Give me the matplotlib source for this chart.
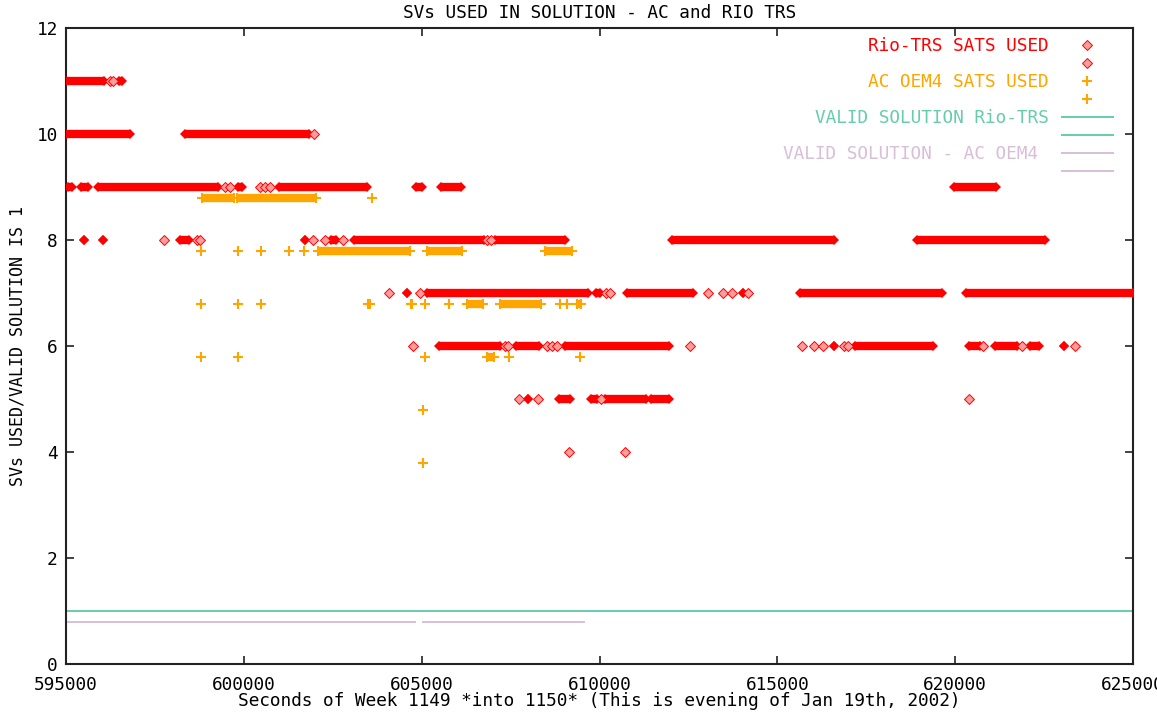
import matplotlib
matplotlib.use("Agg")
import matplotlib.pyplot as plt
from matplotlib.lines import Line2D

# ---------------- data ----------------
# Rio-TRS satellites used: continuous runs (level, start s, end s)
rio_run_level = [11, 11,
                 10, 10,
                 9, 9, 9, 9, 9, 9, 9, 9,
                 8, 8, 8, 8, 8, 8, 8, 8, 8,
                 7, 7, 7, 7, 7, 7, 7,
                 6, 6, 6, 6, 6, 6, 6, 6, 6,
                 5, 5, 5, 5, 5]
rio_run_start = [595000, 596490,
                 595000, 598350,
                 595050, 595420, 595900, 599840, 601000, 604840, 605545, 619960,
                 595506, 596040, 598200, 601720, 602450, 603100, 607050, 612040, 618930,
                 604600, 605150, 609900, 610775, 614040, 615640, 620310,
                 605500, 607650, 609020, 616600, 617170, 620390, 621120, 622100, 623060,
                 607980, 608860, 609760, 610150, 611460]
rio_run_end = [596080, 596575,
               596800, 601830,
               595170, 595620, 599260, 599950, 603460, 605010, 606110, 621150,
               595506, 596040, 598460, 601720, 602590, 606760, 609030, 616600, 622520,
               604600, 609680, 610020, 612620, 614040, 619630, 625000,
               607200, 608300, 611960, 616600, 619380, 620700, 621740, 622360, 623060,
               607980, 609170, 609930, 611320, 611960]
# Rio-TRS isolated epochs
rio_pt_x = [596240, 596320,
            601980,
            599470, 599610, 600455, 600600, 600736,
            597756, 598680, 598770, 601945, 602280, 602790, 606850, 606950,
            604080, 604955, 610190, 610300, 613050, 613475, 613730, 614180,
            604770, 607340, 607430, 608520, 608670, 608810, 612550, 615700, 616035,
            616290, 616880, 616990, 620770, 621880, 623370,
            607750, 608275, 610050, 620390,
            609140, 610720]
rio_pt_y = [11, 11,
            10,
            9, 9, 9, 9, 9,
            8, 8, 8, 8, 8, 8, 8, 8,
            7, 7, 7, 7, 7, 7, 7, 7,
            6, 6, 6, 6, 6, 6, 6, 6, 6,
            6, 6, 6, 6, 6, 6,
            5, 5, 5, 5,
            4, 4]

# AC OEM4 satellites used (plotted 0.2 below)
ac_run_level = [8.8, 8.8, 7.8, 7.8, 7.8, 6.8, 6.8, 6.8, 6.8, 6.8, 5.8]
ac_run_start = [598820, 599800, 602090, 605140, 608470, 603500, 604700, 606280, 607200, 609370, 606840]
ac_run_end = [599730, 602040, 604670, 606140, 609230, 603560, 604740, 606730, 608360, 609480, 607040]
ac_pt_x = [603600,
           598790, 599840, 600490, 601280, 601700,
           598790, 599840, 600490, 605100, 605770, 608900, 609100,
           598790, 599840, 605100, 607460, 609450,
           605040, 605040]
ac_pt_y = [8.8,
           7.8, 7.8, 7.8, 7.8, 7.8,
           6.8, 6.8, 6.8, 6.8, 6.8, 6.8, 6.8,
           5.8, 5.8, 5.8, 5.8, 5.8,
           4.8, 3.8]

# valid-solution flags
rio_valid_start = [595000]
rio_valid_end = [625000]
rio_valid_level = [1.0]
ac_valid_start = [595000, 605040]
ac_valid_end = [604820, 609560]
ac_valid_level = [0.8, 0.8]

x_ticks = [595000, 600000, 605000, 610000, 615000, 620000, 625000]
y_ticks = [0, 2, 4, 6, 8, 10, 12]

labels = ["Rio-TRS SATS USED", "AC OEM4 SATS USED",
          "VALID SOLUTION Rio-TRS", "VALID SOLUTION - AC OEM4 "]

# ---------------- style ----------------
RED = "#ff0000"
RED_LIGHT = "#ff9d9d"
ORANGE = "#ffa500"
GREEN = "#66cdaa"
PURPLE = "#d8bfd8"
FS = 12.8

plt.rcParams["font.family"] = ["DejaVu Sans Mono", "DejaVu Sans"]
plt.rcParams["font.size"] = FS

W, H = 1157, 717
fig = plt.figure(figsize=(W / 100, H / 100), dpi=100)
ax = fig.add_axes([66 / W, 1 - 664 / H, (1133 - 66) / W, (664 - 28) / H])

# valid lines
for s, e, v in zip(rio_valid_start, rio_valid_end, rio_valid_level):
    ax.plot([s, e], [v, v], color=GREEN, lw=1.4, zorder=2)
for s, e, v in zip(ac_valid_start, ac_valid_end, ac_valid_level):
    ax.plot([s, e], [v, v], color=PURPLE, lw=1.4, zorder=2)

# Rio runs
for s, e, v in zip(rio_run_start, rio_run_end, rio_run_level):
    ax.plot([s, e], [v, v], color=RED, lw=6, solid_capstyle="butt",
            marker="D", ms=5.3, mew=0, zorder=3)
ax.plot(rio_pt_x, rio_pt_y, ls="none", marker="D", ms=5, mfc=RED_LIGHT,
        mec=RED, mew=0.7, zorder=3)

# AC runs
for s, e, v in zip(ac_run_start, ac_run_end, ac_run_level):
    ax.plot([s, e], [v, v], color=ORANGE, lw=6, solid_capstyle="butt",
            marker="+", ms=7.5, mew=1.5, zorder=3)
ax.plot(ac_pt_x, ac_pt_y, ls="none", marker="+", ms=7.5, mew=1.5,
        color=ORANGE, zorder=3)

ax.set_xlim(x_ticks[0], x_ticks[-1])
ax.set_ylim(y_ticks[0], y_ticks[-1])
ax.set_xticks(x_ticks)
ax.set_xticklabels([str(t) for t in x_ticks])
ax.set_yticks(y_ticks)
ax.tick_params(direction="in", length=6, width=1.2, top=True, right=True,
               colors="#222222", labelcolor="black")
ax.tick_params(axis="x", pad=8.5)
ax.tick_params(axis="y", pad=6)
for sp in ax.spines.values():
    sp.set_linewidth(1.5)
    sp.set_color("#222222")

ax.set_title("SVs USED IN SOLUTION - AC and RIO TRS", fontsize=FS, pad=7)
ax.set_xlabel("Seconds of Week 1149 *into 1150* (This is evening of Jan 19th, 2002)",
              labelpad=-1)
ax.set_ylabel("SVs USED/VALID SOLUTION IS 1", fontsize=12, labelpad=7)

# legend (gnuplot-style: text then sample, each sample shown twice)
h_rio = Line2D([], [], ls="none", marker="D", ms=5, mfc=RED_LIGHT, mec=RED, mew=0.7)
h_ac = Line2D([], [], ls="none", marker="+", ms=7, mew=1.5, color=ORANGE)
h_gr = Line2D([], [], color=GREEN, lw=1.4)
h_pu = Line2D([], [], color=PURPLE, lw=1.4)
handles = [h_rio, h_rio, h_ac, h_ac, h_gr, h_gr, h_pu, h_pu]
leg_labels = [labels[0], " ", labels[1], " ", labels[2], " ", labels[3], " "]
leg = ax.legend(handles, leg_labels, loc="upper right",
                bbox_to_anchor=(0.9895, 1.0), markerfirst=False,
                frameon=False, handlelength=2.87, handletextpad=0.72,
                labelspacing=0.0, borderaxespad=0.4, borderpad=0.1,
                numpoints=1)
text_colors = [RED, RED, ORANGE, ORANGE, GREEN, GREEN, PURPLE, PURPLE]
for t, c in zip(leg.get_texts(), text_colors):
    t.set_color(c)

fig.savefig("out.png", dpi=100)
